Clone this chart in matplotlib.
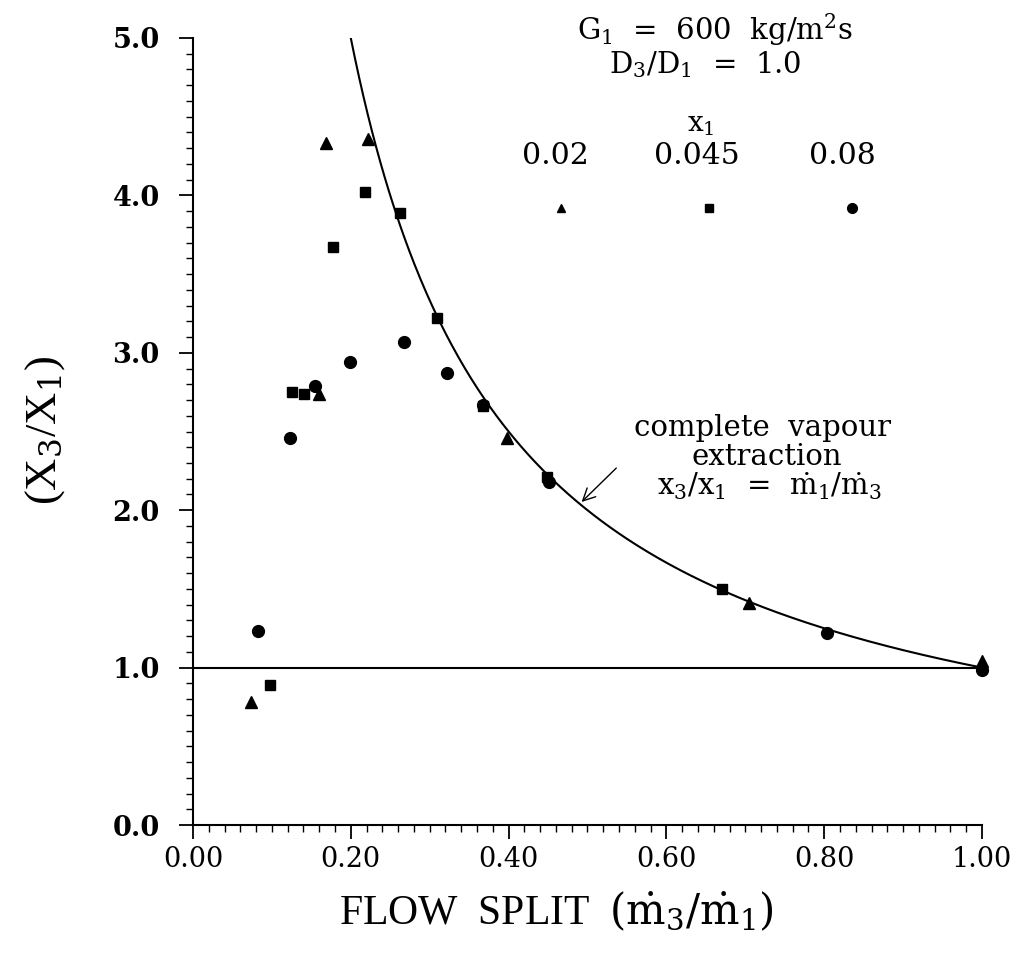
import matplotlib
matplotlib.use("Agg")
import matplotlib.pyplot as plt
import matplotlib.ticker as mticker
import numpy as np

# ---------------------------------------------------------------------------
# Data
# ---------------------------------------------------------------------------

# x1 = 0.02 (triangles)
tri_x = [0.074, 0.160, 0.168, 0.222, 0.398, 0.705, 1.000]
tri_y = [0.78, 2.74, 4.33, 4.36, 2.46, 1.41, 1.04]

# x1 = 0.045 (squares)
sq_x = [0.097, 0.125, 0.141, 0.177, 0.218, 0.262, 0.309, 0.367, 0.449, 0.670]
sq_y = [0.89, 2.75, 2.74, 3.67, 4.02, 3.89, 3.22, 2.66, 2.21, 1.50]

# x1 = 0.08 (circles)
circ_x = [0.082, 0.123, 0.155, 0.199, 0.267, 0.322, 0.368, 0.451, 0.803, 1.000]
circ_y = [1.23, 2.46, 2.79, 2.94, 3.07, 2.87, 2.67, 2.18, 1.22, 0.985]

legend_labels = ["0.02", "0.045", "0.08"]

# complete vapour extraction: x3/x1 = m1/m3
curve_x = np.linspace(0.2, 1.0, 300)
curve_y = 1.0 / curve_x

xticks = [0.0, 0.2, 0.4, 0.6, 0.8, 1.0]
yticks = [0.0, 1.0, 2.0, 3.0, 4.0, 5.0]

# ---------------------------------------------------------------------------
# Figure
# ---------------------------------------------------------------------------

plt.rcParams["font.family"] = "DejaVu Serif"
plt.rcParams["mathtext.fontset"] = "dejavuserif"

fig = plt.figure(figsize=(10.13, 9.57), dpi=100)
ax = fig.add_axes([0.1905, 0.1379, 0.7789, 0.8224])

ax.plot(curve_x, curve_y, color="black", lw=1.5)
ax.axhline(1.0, color="black", lw=1.5)

mk = dict(color="black", linestyle="none", clip_on=False)
ax.plot(tri_x, tri_y, marker="^", markersize=8, **mk)
ax.plot(sq_x, sq_y, marker="s", markersize=7.5, **mk)
ax.plot(circ_x, circ_y, marker="o", markersize=8.5, **mk)

ax.set_xlim(0.0, 1.0)
ax.set_ylim(0.0, 5.0)
ax.set_xticks(xticks)
ax.set_yticks(yticks)
ax.xaxis.set_minor_locator(mticker.MultipleLocator(0.02))
ax.yaxis.set_minor_locator(mticker.MultipleLocator(0.1))
ax.xaxis.set_major_formatter(mticker.FormatStrFormatter("%.2f"))
ax.yaxis.set_major_formatter(mticker.FormatStrFormatter("%.1f"))

for side in ["top", "right"]:
    ax.spines[side].set_visible(False)
for side in ["left", "bottom"]:
    ax.spines[side].set_linewidth(1.5)

ax.tick_params(axis="both", which="major", direction="out", length=10,
               width=1.3, labelsize=19.5)
ax.tick_params(axis="both", which="minor", direction="out", length=5, width=1.0)
ax.tick_params(axis="x", which="major", pad=5)
ax.tick_params(axis="y", which="major", pad=14)
for lbl in ax.get_yticklabels():
    lbl.set_fontweight("bold")

# header text
ax.text(0.662, 5.05, r"G$_1$  =  600  kg/m$^2$s", ha="center", va="center", fontsize=21)
ax.text(0.649, 4.83, r"D$_3$/D$_1$  =  1.0", ha="center", va="center", fontsize=21)
ax.text(0.643, 4.45, r"x$_1$", ha="center", va="center", fontsize=20)

# legend made by hand
for lx, lab in zip([0.459, 0.639, 0.823], legend_labels):
    ax.text(lx, 4.25, lab, ha="center", va="center", fontsize=21.5)
ax.plot([0.466], [3.92], marker="^", markersize=6, **mk)
ax.plot([0.654], [3.92], marker="s", markersize=6, **mk)
ax.plot([0.835], [3.92], marker="o", markersize=7, **mk)

# curve annotation
ax.text(0.722, 2.52, "complete  vapour", ha="center", va="center", fontsize=21)
ax.text(0.727, 2.34, "extraction", ha="center", va="center", fontsize=21)
ax.text(0.731, 2.15, r"x$_3$/x$_1$  =  $\dot{\mathrm{m}}_1/\dot{\mathrm{m}}_3$",
        ha="center", va="center", fontsize=21)
ax.annotate("", xy=(0.490, 2.04), xytext=(0.539, 2.28),
            arrowprops=dict(arrowstyle="->", lw=1.0, color="black",
                            mutation_scale=22))

# axis labels
fig.text(45 / 1013, 1 - 430 / 957, r"(X$_3$/X$_1$)", rotation=90,
         ha="center", va="center", fontsize=32, family="Liberation Serif")
fig.text(556 / 1013, 1 - 912 / 957,
         r"FLOW  SPLIT  $(\dot{\mathrm{m}}_3/\dot{\mathrm{m}}_1)$",
         ha="center", va="center", fontsize=30, family="Liberation Serif")

fig.savefig("out.png", dpi=100)
